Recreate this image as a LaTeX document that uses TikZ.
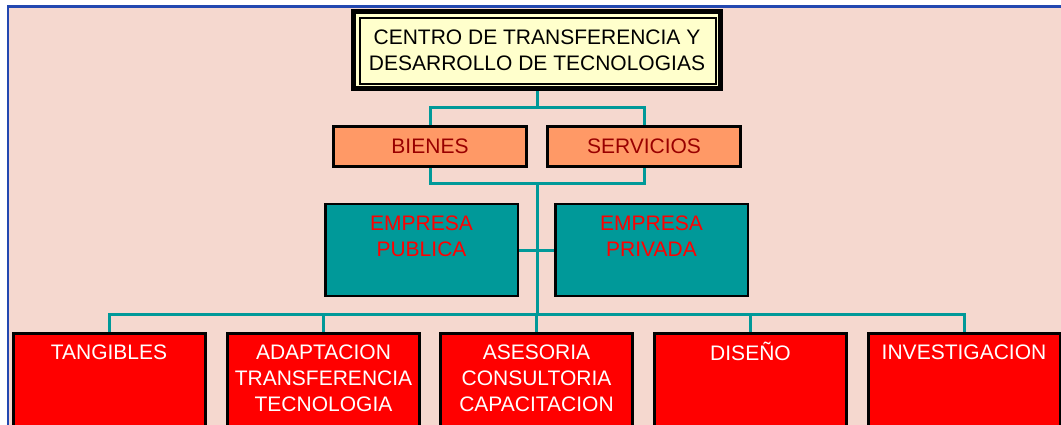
\documentclass[tikz,border=0pt]{standalone}
\usepackage{fontspec}
\setmainfont{Liberation Sans}
\definecolor{bgpink}{HTML}{F5D8CF}
\definecolor{frameblue}{HTML}{2348B0}
\definecolor{linkteal}{HTML}{009999}
\definecolor{paleyellow}{HTML}{FFFFCC}
\definecolor{salmon}{HTML}{FF9966}
\definecolor{darkred}{HTML}{990000}

\begin{document}
\begin{tikzpicture}[x=1pt,y=-1pt,
	every node/.style={font=\fontsize{21}{26}\selectfont},
	link/.style={draw=linkteal, line width=3pt},
	titlebox/.style={draw, line width=5pt, fill=paleyellow, minimum width=367pt, minimum height=77pt, align=center, inner sep=0pt},
	kindbox/.style={draw, line width=3pt, fill=salmon, text=darkred, minimum width=193pt, minimum height=40pt, inner sep=0pt},
	firmbox/.style={draw, line width=2.5pt, fill=linkteal, minimum width=192.5pt, minimum height=92pt},
	areabox/.style={draw, line width=3pt, fill=red, minimum width=192pt, minimum height=120pt},
	boxtext/.style={anchor=north, inner sep=0pt, yshift=-13pt, align=center}]
	\useasboundingbox (0,0) rectangle (1061,425);
	\clip (0,0) rectangle (1061,425);
	\fill[white] (0,0) rectangle (1061,425);
	\draw[frameblue, fill=bgpink, line width=2.5pt] (8,6.5) rectangle (1080,450);	%frame
	
	%TITLE
	\node[titlebox] (centro) at (537,50) {CENTRO DE TRANSFERENCIA Y\\DESARROLLO DE TECNOLOGIAS};
	\draw[line width=1.2pt] ([shift={(9,9)}]centro.north west) rectangle ([shift={(-7,-7)}]centro.south east);
	
	%GOODS AND SERVICES
	\node[kindbox] (bienes) at (430,146.5) {BIENES};
	\node[kindbox] (servicios) at (644,146.5) {SERVICIOS};
	
	%FIRMS
	\node[firmbox, label={[boxtext, text=red]north:{EMPRESA\\PUBLICA}}] (publica) at (421.5,250) {};
	\node[firmbox, label={[boxtext, text=red]north:{EMPRESA\\PRIVADA}}] (privada) at (651.5,250) {};
	
	%AREAS
	\node[areabox, label={[boxtext, text=white]north:TANGIBLES}] (tangibles) at (109,393.5) {};
	\node[areabox, label={[boxtext, text=white]north:{ADAPTACION\\TRANSFERENCIA\\TECNOLOGIA}}] (adaptacion) at (323.5,393.5) {};
	\node[areabox, label={[boxtext, text=white]north:{ASESORIA\\CONSULTORIA\\CAPACITACION}}] (asesoria) at (536.5,393.5) {};
	\node[areabox, label={[boxtext, text=white, text height=15pt]north:DISEÑO}] (diseno) at (750.5,393.5) {};
	\node[areabox, label={[boxtext, text=white]north:INVESTIGACION}] (investigacion) at (964,393.5) {};
	
	%LINKS
	\coordinate (j1) at (537,108);
	\coordinate (j2) at (537,184);
	\coordinate (j3) at (537,314);
	\draw[link] (centro.south) -- (j1);
	\draw[link] (bienes.north) |- (j1) -| (servicios.north);
	\draw[link] (bienes.south) |- (j2) -| (servicios.south);
	\draw[link] (j2) -- (j3);
	\draw[link] (publica.east) -- (privada.west);
	\draw[link] (tangibles.north) |- (j3) -| (investigacion.north);
	\foreach \n in {adaptacion,asesoria,diseno}
	\draw[link] (\n.north) -- (\n.north |- j3);
\end{tikzpicture}
\end{document}
